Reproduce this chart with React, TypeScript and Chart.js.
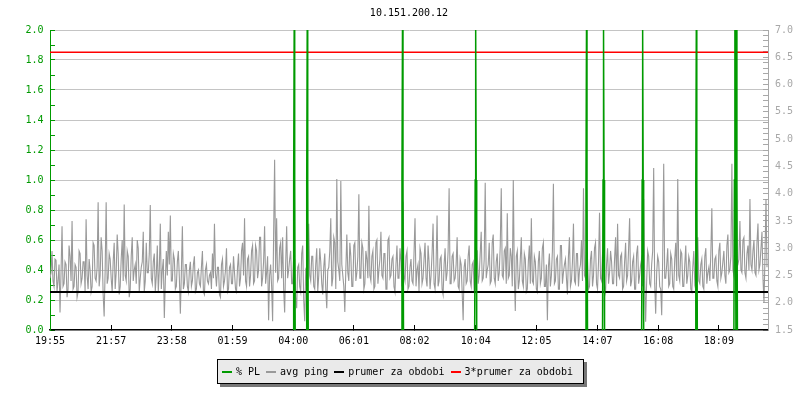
import React, { useEffect, useRef } from "react";
import { Chart, registerables } from "chart.js";

Chart.register(...registerables);

// ---------- data ----------
const chartTitle = "10.151.200.12";

const xTickLabels = [
  "19:55", "21:57", "23:58", "01:59", "04:00", "06:01",
  "08:02", "10:04", "12:05", "14:07", "16:08", "18:09",
];

// total span of the graph in minutes (starts at 19:55)
const xSpanMinutes = 1432;

// avg ping samples (ms): pingValues at minute 4*i, pingValuesMid at minute 4*i+2
const pingIntervalMinutes = 4;
const pingValues = [
  2.45, 2.95, 2.30, 2.78, 2.40, 1.82, 3.40, 2.35, 2.70, 2.25,
  2.85, 3.50, 2.30, 2.65, 2.20, 2.90, 2.45, 2.75, 3.53, 2.25,
  2.60, 2.30, 3.05, 2.40, 3.84, 2.50, 2.95, 1.75, 3.84, 2.45,
  2.80, 2.20, 3.10, 2.55, 2.90, 2.30, 3.15, 3.80, 2.40, 2.85,
  2.25, 3.20, 2.60, 2.35, 3.00, 2.45, 2.75, 2.20, 3.10, 2.55,
  3.79, 2.35, 2.90, 2.50, 2.20, 3.45, 2.60, 1.72, 2.95, 3.30,

  3.60, 2.40, 2.80, 2.30, 2.95, 1.80, 3.40, 2.35, 2.70, 2.20,
  2.75, 2.40, 2.85, 2.25, 2.60, 2.30, 2.95, 2.15, 2.70, 2.35,
  2.55, 2.90, 3.45, 2.30, 2.65, 2.10, 2.80, 2.40, 3.00, 2.25,
  2.70, 2.35, 2.55, 2.20, 2.90, 2.45, 3.10, 3.55, 2.30, 2.85,
  2.50, 3.05, 2.40, 2.95, 2.60, 3.20, 2.45, 3.40, 2.55, 1.68,
  2.70, 1.66, 4.62, 3.55, 2.45, 3.10, 3.20, 1.82, 3.40, 2.60,

  2.95, 2.35, 2.80, 1.90, 2.70, 2.20, 3.05, 1.66, 2.55, 3.45,
  2.40, 2.85, 2.25, 3.00, 2.50, 2.75, 2.15, 2.90, 1.90, 2.65,
  3.55, 2.45, 3.10, 4.27, 2.60, 4.23, 2.50, 1.83, 3.25, 2.40,
  2.85, 2.30, 3.10, 2.55, 3.99, 2.45, 3.00, 2.35, 2.80, 3.78,
  2.40, 2.95, 2.30, 3.15, 2.60, 3.30, 2.45, 2.90, 2.25, 3.20,
  2.50, 2.85, 2.20, 3.05, 2.45, 2.75, 3.85, 2.40, 2.95, 2.30,

  2.80, 2.35, 3.55, 2.60, 2.20, 2.90, 2.45, 3.10, 2.30, 2.75,
  2.50, 3.45, 2.25, 3.60, 2.40, 2.85, 2.15, 3.00, 2.55, 4.10,
  2.35, 2.90, 2.45, 3.20, 2.25, 2.70, 1.68, 2.80, 2.40, 3.05,
  2.30, 2.75, 2.20, 2.95, 2.50, 3.30, 2.45, 4.20, 2.60, 3.10,
  2.40, 3.25, 2.35, 2.90, 2.55, 4.10, 2.45, 3.00, 3.64, 2.50,
  2.85, 4.25, 1.85, 2.95, 2.40, 3.20, 2.30, 2.80, 2.25, 3.05,

  3.55, 2.35, 2.75, 2.20, 2.95, 2.45, 3.10, 2.30, 1.68, 2.90,
  2.50, 4.18, 2.40, 2.85, 2.25, 3.05, 2.55, 2.80, 2.15, 3.20,
  2.40, 3.45, 2.35, 2.90, 2.60, 3.15, 4.10, 2.45, 2.80, 2.30,
  2.95, 2.50, 3.10, 2.25, 3.65, 2.40, 2.85, 2.20, 3.00, 2.55,
  2.75, 2.35, 3.20, 3.45, 2.45, 2.90, 2.30, 3.10, 2.50, 3.55,
  2.40, 2.85, 2.25, 3.05, 2.50, 2.80, 3.90, 1.65, 2.95, 2.35,

  2.70, 4.47, 1.80, 2.85, 2.30, 1.77, 4.55, 2.45, 3.00, 2.35,
  2.80, 2.25, 3.10, 4.27, 2.40, 2.90, 2.30, 3.05, 2.50, 2.75,
  2.20, 2.95, 2.45, 3.20, 2.35, 2.80, 2.25, 3.00, 2.55, 2.40,
  3.73, 2.45, 2.85, 2.30, 3.10, 2.55, 2.95, 2.35, 3.25, 2.60,
  4.55, 2.50, 3.40, 2.70, 3.50, 2.55, 3.20, 2.45, 3.05, 3.90,
  2.60, 3.15, 2.50, 3.45, 2.70, 3.30, 2.00, 3.90,
];

const pingValuesMid = [
  2.55, 2.40, 2.80, 2.20, 2.70, 2.55, 2.30, 2.75, 2.10, 3.05,
  2.40, 2.25, 2.70, 2.10, 2.95, 2.35, 2.75, 2.20, 2.50, 2.80,
  2.20, 3.10, 2.45, 2.65, 2.30, 3.20, 2.15, 2.60, 2.35, 2.90,
  2.45, 2.75, 2.25, 3.25, 2.15, 2.80, 2.40, 2.50, 2.95, 2.10,
  2.85, 2.40, 2.70, 3.15, 2.20, 2.65, 3.30, 2.40, 2.55, 2.90,
  2.45, 2.75, 2.20, 3.05, 2.60, 2.25, 2.80, 2.40, 2.50, 2.70,

  2.40, 2.90, 2.25, 2.75, 2.45, 2.55, 2.25, 2.70, 2.30, 2.60,
  2.30, 2.70, 2.20, 2.55, 2.35, 2.65, 2.20, 2.60, 2.40, 2.50,
  2.25, 2.45, 2.55, 2.65, 2.15, 2.70, 2.30, 2.60, 2.20, 2.65,
  2.35, 2.85, 2.25, 2.65, 2.30, 2.95, 2.50, 2.40, 2.80, 2.30,
  2.95, 2.35, 3.05, 2.45, 3.20, 2.30, 2.75, 2.35, 2.85, 2.50,
  2.30, 3.25, 2.55, 2.40, 3.00, 2.45, 2.25, 2.70, 2.45, 2.80,

  2.35, 2.85, 2.10, 2.65, 2.30, 2.90, 2.05, 2.60, 2.30, 2.50,
  2.85, 2.30, 2.70, 2.20, 3.00, 2.35, 2.65, 2.25, 2.60, 2.95,
  2.30, 3.20, 2.25, 2.75, 2.40, 2.70, 2.30, 2.60, 2.55, 3.10,
  2.30, 3.05, 2.40, 2.85, 2.45, 3.10, 2.25, 2.95, 2.45, 2.50,
  2.85, 2.25, 3.10, 2.35, 2.80, 2.50, 2.90, 2.25, 3.15, 2.45,
  2.80, 2.30, 2.70, 2.45, 3.00, 2.30, 2.50, 2.85, 2.25, 2.65,

  2.40, 2.90, 2.30, 2.70, 3.00, 2.35, 2.80, 2.45, 3.05, 2.25,
  2.90, 2.35, 2.70, 2.30, 2.80, 2.25, 2.70, 2.40, 2.95, 2.35,
  2.85, 2.40, 2.70, 2.30, 2.80, 2.20, 2.65, 2.35, 2.85, 2.40,
  2.70, 2.20, 2.95, 2.35, 2.90, 2.40, 2.80, 2.45, 2.70, 2.35,
  3.10, 2.45, 2.75, 2.40, 3.05, 2.50, 2.95, 2.35, 2.45, 3.00,
  2.30, 2.55, 2.85, 2.25, 2.80, 2.40, 2.90, 2.20, 2.75, 2.35,

  2.40, 2.85, 2.25, 2.75, 2.35, 3.00, 2.30, 2.70, 2.65, 2.30,
  2.95, 2.35, 2.80, 2.25, 3.05, 2.35, 2.70, 2.45, 2.85, 2.30,
  2.75, 2.40, 2.90, 2.30, 2.70, 2.40, 2.50, 2.95, 2.25, 2.80,
  2.30, 3.00, 2.35, 2.75, 2.45, 2.90, 2.30, 2.70, 2.35, 2.95,
  2.35, 2.80, 2.30, 2.50, 2.85, 2.25, 2.75, 2.40, 3.00, 2.30,
  2.75, 2.25, 2.90, 2.35, 2.70, 2.30, 2.45, 2.40, 2.85, 2.30,

  2.95, 2.35, 2.55, 2.75, 2.25, 2.85, 2.45, 2.70, 2.30, 2.90,
  2.30, 2.80, 2.40, 2.50, 2.95, 2.30, 2.70, 2.35, 2.85, 2.25,
  2.65, 2.35, 2.75, 2.40, 2.70, 2.30, 2.85, 2.35, 2.65, 2.90,
  2.45, 2.80, 2.40, 2.95, 2.45, 2.75, 2.50, 3.05, 2.55, 2.85,
  2.60, 3.10, 2.65, 2.80, 2.60, 3.15, 2.55, 2.90, 2.60, 2.70,
  2.95, 2.55, 3.10, 2.60, 3.00, 2.45, 2.85, 2.65,
];

// packet loss events: minute offset from 19:55, peak % and neighbouring-sample %
const plEventMinutes = [487, 513, 703, 849, 1070, 1104, 1182, 1289, 1366, 1369];
const plPeakValues = [2, 2, 2, 2, 2, 2, 2, 2, 2, 2];
const plShoulderValues = [1, 1, 1, 1, 1, 1, 1, 1, 1, 1];

const avgPing = 2.197;
const tripleAvgPing = 6.59;

const legendLabels = ["% PL", "avg ping", "prumer za obdobi", "3*prumer za obdobi"];

// ---------- styles ----------
const GREEN = "#009a00";
const GRAY_LINE = "#999999";
const GRID = "#c4c4c4";
const RIGHT_AXIS = "#a8a8a8";
const RED = "#ff0000";
const FONT_FAMILY = "'DejaVu Sans Mono', monospace";
const legendColors = [GREEN, GRAY_LINE, "#000000", RED];

const toMinutes = (s: string) => {
  const [h, m] = s.split(":").map(Number);
  return h * 60 + m;
};
const xTickMinutes = xTickLabels.map((l) => {
  const d = toMinutes(l) - toMinutes(xTickLabels[0]);
  return (d + 1440) % 1440;
});

const isMultiple = (v: number, step: number) =>
  Math.abs(v / step - Math.round(v / step)) < 1e-6;

export default function App() {
  const canvasRef = useRef<HTMLCanvasElement>(null);

  useEffect(() => {
    const canvas = canvasRef.current;
    if (!canvas) return;

    const pingData: { x: number; y: number }[] = [];
    pingValues.forEach((v, i) => {
      pingData.push({ x: i * pingIntervalMinutes, y: v });
      if (i < pingValuesMid.length) {
        pingData.push({ x: i * pingIntervalMinutes + pingIntervalMinutes / 2, y: pingValuesMid[i] });
      }
    });

    const plData: { x: number; y: number | null }[] = [];
    plEventMinutes.forEach((t, i) => {
      plData.push({ x: t - 2, y: 0 });
      plData.push({ x: t - 1, y: plShoulderValues[i] });
      plData.push({ x: t, y: plPeakValues[i] });
      plData.push({ x: t + 1, y: plShoulderValues[i] });
      plData.push({ x: t + 2, y: 0 });
      plData.push({ x: t + 2.5, y: null });
    });

    const font = { family: FONT_FAMILY, size: 10 };

    const chart = new Chart(canvas, {
      type: "line",
      data: {
        datasets: [
          {
            label: legendLabels[0],
            data: plData as any,
            yAxisID: "y",
            borderColor: GREEN,
            borderWidth: 1.5,
            pointRadius: 0,
            spanGaps: false,
            order: 0,
          },
          {
            label: legendLabels[1],
            data: pingData,
            yAxisID: "y1",
            borderColor: GRAY_LINE,
            borderWidth: 1.1,
            pointRadius: 0,
            order: 3,
          },
          {
            label: legendLabels[2],
            data: [
              { x: 0, y: avgPing },
              { x: xSpanMinutes, y: avgPing },
            ],
            yAxisID: "y1",
            borderColor: "#000000",
            borderWidth: 2,
            pointRadius: 0,
            order: 1,
          },
          {
            label: legendLabels[3],
            data: [
              { x: 0, y: tripleAvgPing },
              { x: xSpanMinutes, y: tripleAvgPing },
            ],
            yAxisID: "y1",
            borderColor: RED,
            borderWidth: 1.5,
            pointRadius: 0,
            order: 1,
          },
        ],
      },
      options: {
        animation: false,
        responsive: false,
        layout: { padding: { left: 0, right: 0, top: 0, bottom: 50 } },
        plugins: {
          legend: { display: false },
          tooltip: { enabled: false },
          title: {
            display: true,
            text: chartTitle,
            color: "#000",
            font: { ...font, weight: "normal" },
            padding: { top: 7, bottom: 11 },
            fullSize: false,
          },
        },
        scales: {
          x: {
            type: "linear",
            min: 0,
            max: xSpanMinutes,
            afterBuildTicks: (axis: any) => {
              axis.ticks = xTickMinutes.map((v) => ({ value: v }));
            },
            afterFit: (axis: any) => {
              axis.height = 20;
            },
            ticks: {
              autoSkip: false,
              maxRotation: 0,
              minRotation: 0,
              padding: 10,
              color: "#000",
              font,
              callback: (_v: any, i: number) => xTickLabels[i] ?? "",
            },
            grid: {
              drawOnChartArea: false,
              drawTicks: true,
              tickLength: -5,
              tickColor: "#000",
            },
            border: { color: "#000", width: 1.5 },
          },
          y: {
            type: "linear",
            position: "left",
            min: 0,
            max: 2,
            afterFit: (axis: any) => {
              axis.width = 50;
            },
            ticks: {
              stepSize: 0.1,
              autoSkip: false,
              color: GREEN,
              font,
              padding: 11.5,
              callback: (v: any) => (isMultiple(Number(v), 0.2) ? Number(v).toFixed(1) : ""),
            },
            grid: {
              color: (c: any) =>
                c.tick && isMultiple(c.tick.value, 0.2) && c.tick.value > 0.01
                  ? GRID
                  : "rgba(0,0,0,0)",
              tickColor: GREEN,
              tickLength: -5,
            },
            border: { color: GREEN, width: 1 },
          },
          y1: {
            type: "linear",
            position: "right",
            min: 1.5,
            max: 7,
            afterFit: (axis: any) => {
              axis.width = 32;
            },
            ticks: {
              stepSize: 0.1,
              autoSkip: false,
              color: RIGHT_AXIS,
              font,
              padding: 12,
              callback: (v: any) => (isMultiple(Number(v), 0.5) ? Number(v).toFixed(1) : ""),
            },
            grid: {
              drawOnChartArea: false,
              tickColor: RIGHT_AXIS,
              tickLength: -5,
            },
            border: { color: RIGHT_AXIS, width: 1 },
          },
        },
      } as any,
    });

    return () => chart.destroy();
  }, []);

  return (
    <div
      style={{
        position: "fixed",
        left: 0,
        top: 0,
        width: 800,
        height: 400,
        background: "#ffffff",
        overflow: "hidden",
      }}
    >
      <canvas ref={canvasRef} width={800} height={400} style={{ display: "block" }} />
      <div
        style={{
          position: "absolute",
          left: 217,
          top: 359,
          width: 361,
          height: 23,
          border: "1px solid #000",
          background: "#eaeaea",
          boxShadow: "3px 3px 0 #777777",
          display: "flex",
          alignItems: "center",
          paddingLeft: 4,
          boxSizing: "content-box",
          fontFamily: FONT_FAMILY,
          fontSize: 10,
          color: "#000",
          whiteSpace: "nowrap",
        }}
      >
        {legendLabels.map((label, i) => (
          <span
            key={label}
            style={{ display: "flex", alignItems: "center", marginRight: i < legendLabels.length - 1 ? 6 : 0 }}
          >
            <span
              style={{
                display: "inline-block",
                width: 10,
                height: 2,
                background: legendColors[i],
                marginRight: 4,
              }}
            />
            <span>{label}</span>
          </span>
        ))}
      </div>
    </div>
  );
}
